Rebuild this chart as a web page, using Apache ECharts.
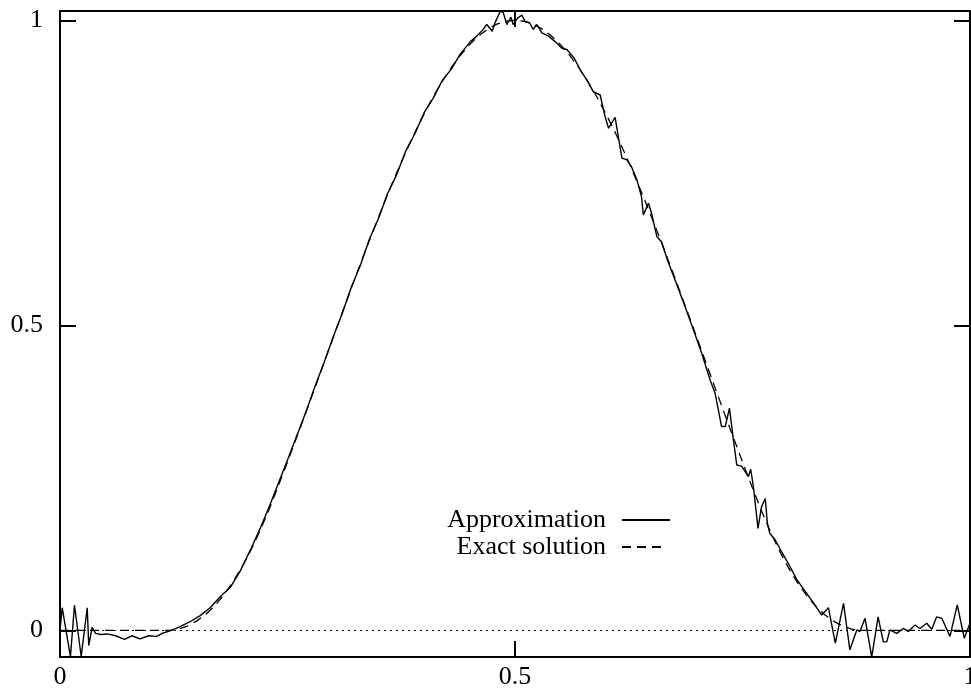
<!DOCTYPE html>
<html>
<head>
<meta charset="utf-8">
<script src="https://cdn.jsdelivr.net/npm/echarts@6/dist/echarts.min.js"></script>
<style>html,body{margin:0;padding:0;background:#fff}#c{width:971px;height:699px}</style>
</head>
<body>
<div id="c"></div>
<script>
// ---- data ----
const xTicks = [0, 0.5, 1];
const yTicks = [0, 0.5, 1];
const seriesNames = ['Approximation', 'Exact solution'];

const exactX = [0,0.01,0.02,0.03,0.04,0.05,0.06,0.07,0.08,0.09,0.10,0.11,0.12,0.13,0.14,0.15,0.16,0.17,0.18,0.19,0.20,
  0.21,0.22,0.23,0.24,0.25,0.26,0.27,0.28,0.29,0.30,0.31,0.32,0.33,0.34,0.35,0.36,0.37,0.38,0.39,0.40,
  0.41,0.42,0.43,0.44,0.45,0.46,0.47,0.48,0.49,0.50,0.51,0.52,0.53,0.54,0.55,0.56,0.57,0.58,0.59,0.60,
  0.61,0.62,0.63,0.64,0.65,0.66,0.67,0.68,0.69,0.70,0.71,0.72,0.73,0.74,0.75,0.76,0.77,0.78,0.79,0.80,
  0.81,0.82,0.83,0.84,0.85,0.86,0.87,0.88,0.89,0.90,0.91,0.92,0.93,0.94,0.95,0.96,0.97,0.98,0.99,1.00];
const exactY = [0,0,0,0,0,0,0,0,0,0,0,0,0.000,0.002,0.007,0.015,0.026,0.040,0.058,0.079,0.104,
  0.132,0.164,0.199,0.237,0.276,0.316,0.356,0.397,0.438,0.479,0.520,0.5604,0.6003,0.6395,0.6773,0.7145,0.7500,0.7841,0.8163,0.8462,
  0.8742,0.8997,0.9226,0.9427,0.9600,0.9744,0.9855,0.9936,0.9984,1.0000,0.9984,0.9936,0.9855,0.9744,0.9600,0.9427,0.9226,0.8997,0.8742,0.8462,
  0.8163,0.7841,0.7500,0.7145,0.6773,0.6395,0.6003,0.5604,0.520,0.479,0.438,0.397,0.356,0.316,0.276,0.237,0.199,0.164,0.132,0.104,
  0.079,0.058,0.040,0.026,0.015,0.007,0.002,0.000,0,0,0,0,0,0,0,0,0,0,0,0,0];

const approxX = [0.000,0.0024,0.0115,0.0159,0.0233,0.0299,0.0316,0.0354,0.039,0.045,0.052,0.061,0.071,0.079,0.088,0.0975,0.106,0.114,0.121,
  0.132,0.143,0.154,0.165,0.176,0.187,0.198,0.21,0.22,0.23,0.24,0.25,0.26,0.27,0.28,0.29,0.30,0.31,0.32,0.33,0.34,0.35,0.36,0.37,0.38,0.39,
  0.40,0.41,0.42,0.43,0.44,0.451,0.458,0.465,0.469,0.475,0.478,0.484,0.487,0.491,0.4955,0.498,0.503,0.5076,0.511,0.516,0.520,0.524,0.5296,
  0.537,0.544,0.5516,0.557,0.565,0.572,0.579,0.586,0.5936,0.599,0.6028,0.610,0.6175,0.623,0.628,0.634,0.639,0.641,0.6467,0.650,0.656,0.661,
  0.668,0.676,0.685,0.695,0.705,0.7145,0.720,0.727,0.731,0.7357,0.740,0.7437,0.749,0.7565,0.759,0.762,0.764,0.767,0.771,0.775,0.7774,0.780,
  0.786,0.791,0.802,0.8097,0.817,0.828,0.837,0.8444,0.852,0.861,0.868,0.8756,0.879,0.8847,0.892,0.899,0.9048,0.9085,0.912,0.9195,0.9267,
  0.9322,0.9396,0.945,0.9524,0.958,0.9634,0.969,0.978,0.986,0.9937,1.0];
const approxY = [0.000,0.037,-0.043,0.041,-0.043,0.037,-0.025,0.005,-0.005,-0.007,-0.006,-0.009,-0.015,-0.009,-0.014,-0.009,-0.010,-0.004,-0.001,
  0.006,0.014,0.024,0.037,0.055,0.070,0.097,0.134,0.167,0.203,0.241,0.279,0.318,0.357,0.399,0.438,0.480,0.519,0.562,0.598,0.641,0.675,0.716,0.747,0.786,0.814,
  0.848,0.872,0.901,0.920,0.945,0.965,0.974,0.985,0.993,0.982,0.996,1.015,1.013,0.993,1.005,0.993,1.004,1.0085,0.998,0.996,0.985,0.993,0.9795,
  0.974,0.965,0.954,0.952,0.938,0.918,0.902,0.883,0.8775,0.842,0.823,0.841,0.774,0.771,0.760,0.738,0.711,0.681,0.700,0.684,0.645,0.637,
  0.605,0.574,0.538,0.497,0.455,0.410,0.388,0.334,0.334,0.364,0.312,0.271,0.269,0.252,0.264,0.235,0.208,0.167,0.203,0.216,0.175,0.159,
  0.148,0.134,0.105,0.083,0.068,0.045,0.025,0.037,-0.021,0.044,-0.032,0.0005,-0.002,0.0197,-0.044,0.022,-0.019,-0.019,0.0005,-0.005,0.003,
  -0.002,0.0087,0.003,0.0115,0.0016,0.022,0.0197,-0.010,0.0415,-0.013,0.0115];

// ---- chart ----
const FONT = "'Liberation Serif','DejaVu Serif',serif";
const yMin = -0.0438, yMax = 1.0152;
const approxData = approxX.map((x, i) => [x, approxY[i]]);
const exactData = exactX.map((x, i) => [x, exactY[i]]);

function axisCommon(showLabel, ticks) {
  return {
    type: 'value',
    axisLine: { show: true, onZero: false, lineStyle: { color: '#000', width: 2 } },
    axisTick: { show: true, inside: true, length: 16, customValues: ticks, lineStyle: { color: '#000', width: 2 } },
    axisLabel: { show: showLabel, customValues: ticks, color: '#000', fontFamily: FONT, fontSize: 26,
      alignMinLabel: 'center', alignMaxLabel: 'center' },
    splitLine: { show: false }
  };
}
const xb = axisCommon(true, xTicks); xb.position = 'bottom'; xb.min = 0; xb.max = 1; xb.axisLabel.margin = 7;
const xt = axisCommon(false, xTicks); xt.position = 'top'; xt.min = 0; xt.max = 1;
const yl = axisCommon(true, yTicks); yl.position = 'left'; yl.min = yMin; yl.max = yMax; yl.axisLabel.margin = 17;
yl.axisLabel.alignMinLabel = null; yl.axisLabel.alignMaxLabel = null;
const yr = axisCommon(false, yTicks); yr.position = 'right'; yr.min = yMin; yr.max = yMax;

const hiddenSymbol = { color: 'rgba(0,0,0,0)', borderWidth: 0, opacity: 0 };
const chart = echarts.init(document.getElementById('c'), null, { renderer: 'canvas' });
chart.setOption({
  animation: false,
  backgroundColor: '#fff',
  grid: { left: 60, right: 1, top: 11, bottom: 42, containLabel: false, outerBoundsMode: 'none' },
  xAxis: [xb, xt],
  yAxis: [yl, yr],
  legend: [
    { data: [seriesNames[0]], orient: 'vertical', align: 'right', right: 300, top: 507, padding: 0,
      itemWidth: 48, itemHeight: 26, itemStyle: hiddenSymbol,
      textStyle: { fontFamily: FONT, fontSize: 26, color: '#000', padding: [0, 11, 0, 0] } },
    { data: [seriesNames[1]], orient: 'vertical', align: 'right', right: 305, top: 534, padding: 0,
      itemWidth: 43, itemHeight: 26, itemStyle: hiddenSymbol,
      textStyle: { fontFamily: FONT, fontSize: 26, color: '#000', padding: [0, 11, 0, 0] } }
  ],
  series: [
    { name: seriesNames[0], type: 'line', data: approxData, symbol: 'none', showSymbol: false,
      xAxisIndex: 0, yAxisIndex: 0, clip: true,
      itemStyle: { color: '#000' }, lineStyle: { color: '#000', width: 1.4 } },
    { name: seriesNames[1], type: 'line', data: exactData, symbol: 'none', showSymbol: false,
      xAxisIndex: 0, yAxisIndex: 0, clip: true,
      itemStyle: { color: '#000' }, lineStyle: { color: '#000', width: 1.3, type: [9, 6] },
      markLine: { silent: true, symbol: 'none', label: { show: false },
        lineStyle: { color: '#000', width: 1, type: [2, 4] }, data: [{ yAxis: 0 }] } }
  ]
});
</script>
</body>
</html>
